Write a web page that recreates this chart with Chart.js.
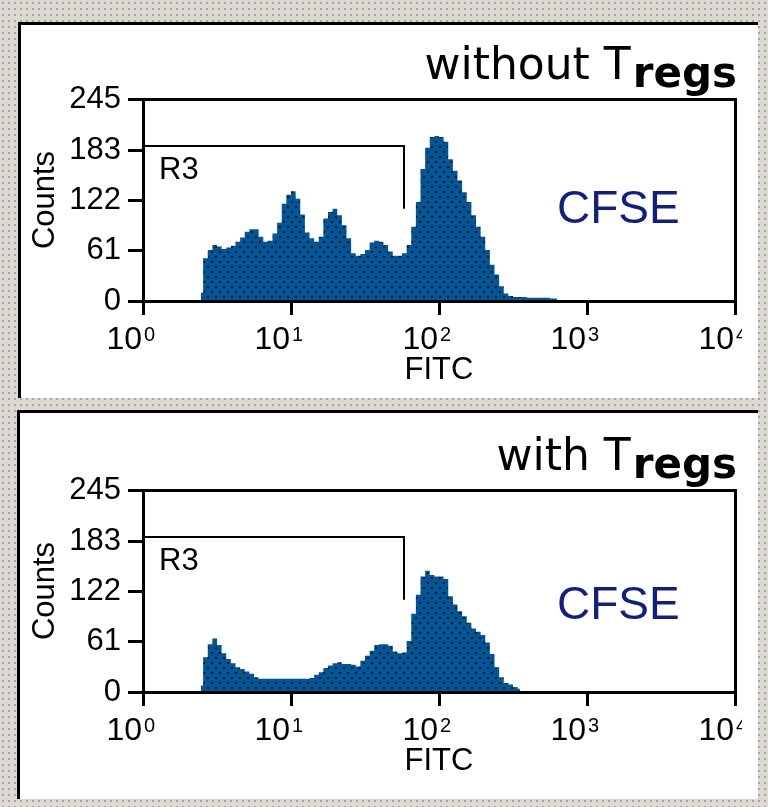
<!DOCTYPE html>
<html><head><meta charset="utf-8">
<script src="https://cdn.jsdelivr.net/npm/chart.js@4.4.1/dist/chart.umd.min.js"></script>
<style>
html,body{margin:0;padding:0;}
body{width:768px;height:807px;position:relative;overflow:hidden;background-color:#dcd9d3;
 background-image:radial-gradient(circle,#a6a6a6 0.9px,transparent 1.2px);background-size:6px 6px;}
.panel{position:absolute;background:#fff;border-top:3px solid #000;border-left:3px solid #000;}
#p1{left:18px;top:22px;width:737px;height:373px;}
#p2{left:17px;top:410px;width:738px;height:386px;}
canvas{position:absolute;}
#c1{left:22px;top:25px;}
#c2{left:22px;top:416px;}
</style></head>
<body>
<div class="panel" id="p1"></div>
<div class="panel" id="p2"></div>
<canvas id="c1" width="736" height="370"></canvas>
<canvas id="c2" width="736" height="370"></canvas>
<script>
// ---- data ----
// FITC channels: 256 log channels over 4 decades; bins of 2 channels, first bin centre = channel 25
const firstChannel = 25;
const channelStep = 2;
const countsWithout = [10,52,62,68,66,63,65,67,72,77,84,87,87,78,72,73,82,95,118,129,133,124,105,83,76,72,78,100,108,112,104,92,76,58,55,57,62,71,73,72,68,60,55,55,58,68,90,120,160,186,199,200,199,193,172,158,146,132,120,104,90,78,62,44,32,18,9,6,5,5,5,4,4,4,4,4,3,3];
const countsWith = [8,42,58,65,57,47,40,35,30,28,25,22,18,16,16,16,16,16,16,16,16,16,16,16,17,21,24,29,32,35,36,34,34,33,31,38,44,50,57,58,58,56,49,47,48,62,95,118,140,147,142,140,140,137,116,106,98,92,84,77,73,69,60,46,30,18,11,9,6,4];
const yTickValues = [0,61,122,183,245];
const xTickChannels = [0,64,128,192,256];
const xTickExponents = ['0','1','2','3','4'];
const gateEndChannel = 113;   // R3 gate upper edge
const gateCount = 188;
const gateDropCount = 112;
const titles = ['without T','with T'];
const titleSub = 'regs';

function makePattern(){
  const c=document.createElement('canvas'); c.width=8; c.height=10;
  const g=c.getContext('2d');
  g.fillStyle='#005596'; g.fillRect(0,0,8,10);
  g.fillStyle='#151515'; g.fillRect(1,1,2,2); g.fillRect(5,6,2,2);
  return g.createPattern(c,'repeat');
}

const decor = {
  id:'decor',
  afterDraw(chart, args, o){
    const ctx=chart.ctx, a=chart.chartArea, xs=chart.scales.x, ys=chart.scales.y;
    ctx.save();
    // plot frame
    ctx.strokeStyle='#000'; ctx.lineWidth=3;
    const L=Math.round(a.left)+0.5, T=Math.round(a.top)+0.5, R=Math.round(a.right)+0.5, B=Math.round(a.bottom)+0.5;
    ctx.strokeRect(L,T,R-L,B-T);
    // gate R3
    ctx.lineWidth=2;
    const gx=Math.round(xs.getPixelForValue(gateEndChannel)), gy=Math.round(ys.getPixelForValue(gateCount));
    const gy2=ys.getPixelForValue(gateDropCount);
    ctx.beginPath(); ctx.moveTo(L,gy); ctx.lineTo(gx,gy); ctx.lineTo(gx,gy2); ctx.stroke();
    ctx.fillStyle='#000'; ctx.font='31px "Liberation Sans", Arial, sans-serif';
    ctx.textAlign='left'; ctx.textBaseline='alphabetic';
    ctx.fillText('R3', a.left+16, gy+33);
    // x tick labels 10^n
    xTickChannels.forEach((v,i)=>{
      const px=xs.getPixelForValue(v);
      ctx.textAlign='right'; ctx.font='32px "Liberation Sans", Arial, sans-serif';
      ctx.fillText('10', px-1, a.bottom+48);
      ctx.textAlign='left'; ctx.font='20px "Liberation Sans", Arial, sans-serif';
      ctx.save();
      if(i===xTickChannels.length-1){ ctx.beginPath(); ctx.rect(px, 0, 7, chart.height); ctx.clip(); }
      ctx.fillText(xTickExponents[i], px+1, a.bottom+40);
      ctx.restore();
    });
    // title
    ctx.fillStyle='#000'; ctx.textAlign='right';
    ctx.font='bold 42px "DejaVu Sans", Verdana, sans-serif';
    const wSub=ctx.measureText(titleSub).width;
    ctx.fillText(titleSub, o.titleRight, o.titleBase+8);
    ctx.font='44px "DejaVu Sans", Verdana, sans-serif';
    ctx.fillText(o.title, o.titleRight-wSub-2, o.titleBase);
    // CFSE
    ctx.fillStyle='#111f80'; ctx.textAlign='left';
    ctx.font='46px "Liberation Sans", Arial, sans-serif';
    ctx.fillText('CFSE', 535, o.cfseBase);
    ctx.restore();
  }
};

function makeChart(id, counts, title, cfseBase){
  const pts = counts.map((c,i)=>({x:firstChannel+i*channelStep, y:c}));
  return new Chart(document.getElementById(id), {
    type:'line',
    data:{datasets:[{data:pts, stepped:'middle', fill:'origin', backgroundColor:makePattern(),
      borderColor:'rgba(0,0,0,0)', borderWidth:0, pointRadius:0, tension:0}]},
    options:{
      responsive:false, animation:false, events:[],
      layout:{padding:{top:74,right:23,left:0,bottom:0}},
      plugins:{legend:{display:false}, tooltip:{enabled:false},
        decor:{title:title, titleRight:715, titleBase:54, cfseBase:cfseBase}},
      scales:{
        x:{type:'linear', min:0, max:256,
          afterBuildTicks:s=>{s.ticks=xTickChannels.map(v=>({value:v}));},
          afterFit:s=>{s.height=94;},
          ticks:{display:false},
          grid:{display:true, drawOnChartArea:false, drawTicks:true, tickLength:14, color:'#000', lineWidth:3},
          border:{display:false},
          title:{display:true, text:'FITC', color:'#000', font:{family:'"Liberation Sans", Arial, sans-serif', size:31}, padding:{top:0,bottom:6}}
        },
        y:{type:'linear', min:0, max:245,
          afterBuildTicks:s=>{s.ticks=yTickValues.map(v=>({value:v}));},
          afterFit:s=>{s.width=121;},
          ticks:{autoSkip:false, color:'#000', padding:7, font:{family:'"Liberation Sans", Arial, sans-serif', size:31}},
          grid:{display:true, drawOnChartArea:false, drawTicks:true, tickLength:15, color:'#000', lineWidth:3},
          border:{display:false},
          title:{display:true, text:'Counts', color:'#000', font:{family:'"Liberation Sans", Arial, sans-serif', size:31}, padding:{top:5,bottom:0}}
        }
      }
    },
    plugins:[decor]
  });
}
makeChart('c1', countsWithout, titles[0], 198);
makeChart('c2', countsWith, titles[1], 203);
</script>
</body></html>
